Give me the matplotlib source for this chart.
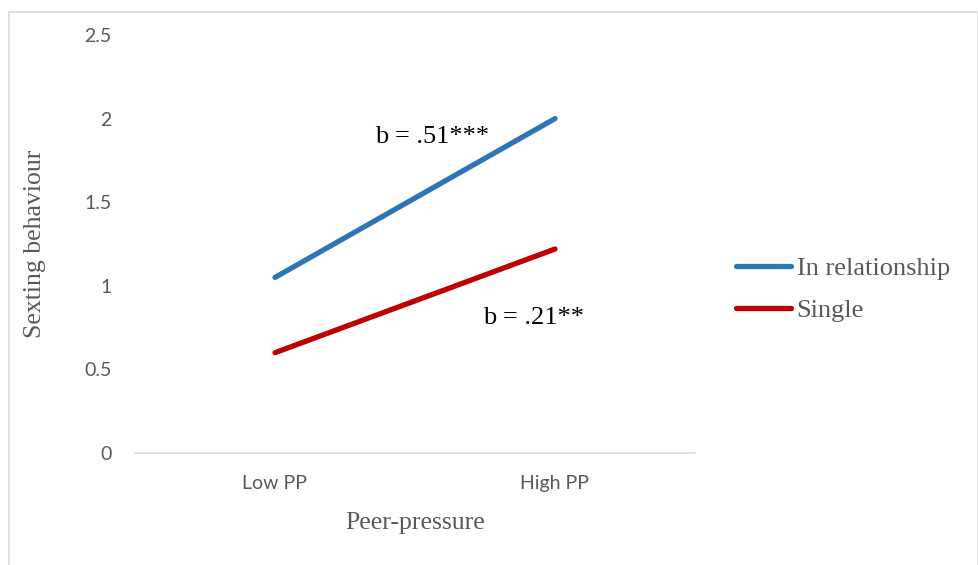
import matplotlib.pyplot as plt
from matplotlib.patches import Rectangle

# data
categories = ['Low PP', 'High PP']
in_relationship = [1.05, 2.0]
single = [0.60, 1.22]
series_names = ['In relationship', 'Single']
y_ticks = [0, 0.5, 1, 1.5, 2, 2.5]
y_tick_labels = ['0', '0.5', '1', '1.5', '2', '2.5']

grey = '#595959'
serif = ['Liberation Serif', 'DejaVu Serif']
sans = ['Lato', 'DejaVu Sans']

fig = plt.figure(figsize=(9.79, 5.65), dpi=100)
ax = fig.add_axes([135 / 979, 1 - 453 / 565, 560 / 979, 418 / 565])

x = range(len(categories))
ax.plot(x, in_relationship, color='#2E75B6', lw=3.8, solid_capstyle='round',
        label=series_names[0])
ax.plot(x, single, color='#C00000', lw=3.8, solid_capstyle='round',
        label=series_names[1])

ax.set_xlim(-0.5, 1.5)
ax.set_ylim(0, 2.5)
ax.set_xticks(list(x))
ax.set_xticklabels(categories, fontfamily=sans, fontsize=14, color=grey)
ax.set_yticks(y_ticks)
ax.set_yticklabels(y_tick_labels, fontfamily=sans, fontsize=14, color=grey)
ax.tick_params(axis='y', length=0, pad=17)
ax.tick_params(axis='x', length=0, pad=16)

for side in ['top', 'right', 'left']:
    ax.spines[side].set_visible(False)
ax.spines['bottom'].set_color('#D9D9D9')
ax.spines['bottom'].set_linewidth(1.2)

ax.set_xlabel('Peer-pressure', fontfamily=serif, fontsize=18.5, color=grey, va='center')
ax.xaxis.set_label_coords(0.5, -0.167)
ax.set_ylabel('Sexting behaviour', fontfamily=serif, fontsize=18.5, color=grey, va='center')
ax.yaxis.set_label_coords(-0.179, 0.5)

# slope annotations
ax.text(0.56, 1.89, 'b = .51***', fontfamily=serif, fontsize=19, ha='center', va='center')
ax.text(0.925, 0.81, 'b = .21**', fontfamily=serif, fontsize=19, ha='center', va='center')

leg = ax.legend(loc='center left', bbox_to_anchor=(1.073, 0.392), frameon=False,
                prop={'family': serif, 'size': 19}, handlelength=2.1,
                handletextpad=0.2, labelspacing=0.7, borderpad=0, borderaxespad=0)
for t in leg.get_texts():
    t.set_color(grey)

# outer chart border
fig.patches.append(Rectangle((9 / 979, -0.01), 0.99, 0.99 - 6 / 565 + 0.01,
                             transform=fig.transFigure, fill=False,
                             edgecolor='#D9D9D9', lw=1.2))

fig.savefig('out.png', dpi=100)
